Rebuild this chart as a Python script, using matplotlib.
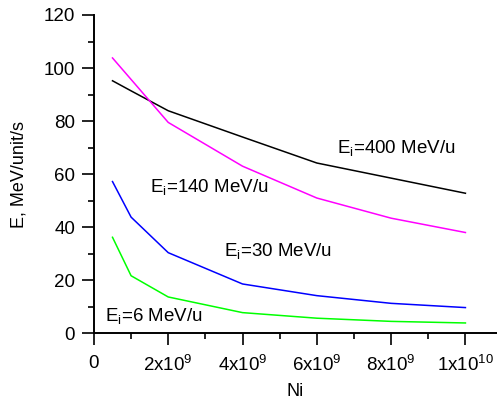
import matplotlib
matplotlib.use("Agg")
import matplotlib.pyplot as plt
from matplotlib.ticker import MultipleLocator, FixedLocator

plt.rcParams['font.family'] = ['Liberation Sans', 'DejaVu Sans']
plt.rcParams['mathtext.fontset'] = 'custom'
plt.rcParams['mathtext.rm'] = 'Liberation Sans'
plt.rcParams['mathtext.it'] = 'Liberation Sans'
plt.rcParams['mathtext.default'] = 'rm'

ni = [0.5e9, 1e9, 2e9, 4e9, 6e9, 8e9, 1e10]
e400 = [95.2, 91.4, 83.9, 74.0, 64.2, 58.5, 52.8]
e140 = [103.8, 95.7, 79.5, 63.0, 51.0, 43.4, 38.0]
e30 = [57.2, 43.8, 30.4, 18.6, 14.2, 11.3, 9.7]
e6 = [36.2, 21.7, 13.7, 7.8, 5.7, 4.5, 3.9]

xticks = [0, 2e9, 4e9, 6e9, 8e9, 1e10]
xticklabels = ['0', r'2x10$^{9}$', r'4x10$^{9}$', r'6x10$^{9}$', r'8x10$^{9}$', r'1x10$^{10}$']

fig = plt.figure(figsize=(4.97, 4.05), dpi=100)
ax = fig.add_axes([0.189, 0.177, 0.811, 0.786])

ax.plot(ni, e400, color='black', lw=1.1)
ax.plot(ni, e140, color='#ff00ff', lw=1.1)
ax.plot(ni, e30, color='#0000ff', lw=1.1)
ax.plot(ni, e6, color='#00ff00', lw=1.1)

ax.set_xlim(0, 1.085e10)
ax.set_ylim(0, 120)
ax.xaxis.set_major_locator(FixedLocator(xticks))
ax.set_xticklabels(xticklabels)
ax.xaxis.set_minor_locator(MultipleLocator(1e9))
ax.yaxis.set_major_locator(MultipleLocator(20))
ax.yaxis.set_minor_locator(MultipleLocator(10))

for s in ['top', 'right']:
    ax.spines[s].set_visible(False)
for s in ['left', 'bottom']:
    ax.spines[s].set_linewidth(1.4)

ax.tick_params(axis='both', which='major', direction='out', length=8.5, width=1.2, labelsize=13.5, pad=5)
ax.tick_params(axis='both', which='minor', direction='out', length=4.5, width=1.2)
ax.tick_params(axis='x', which='major', pad=7)

ax.set_xlabel('Ni', fontsize=13, labelpad=6)
ax.set_ylabel('E, MeV/unit/s', fontsize=13, labelpad=12)

ax.text(6.55e9, 70, r'E$_{\rm i}$=400 MeV/u', fontsize=13.5, va='center', ha='left')
ax.text(1.5e9, 55, r'E$_{\rm i}$=140 MeV/u', fontsize=13.5, va='center', ha='left')
ax.text(3.5e9, 31, r'E$_{\rm i}$=30 MeV/u', fontsize=13.5, va='center', ha='left')
ax.text(0.3e9, 6.5, r'E$_{\rm i}$=6 MeV/u', fontsize=13.5, va='center', ha='left')

fig.savefig('out.png', dpi=100)
